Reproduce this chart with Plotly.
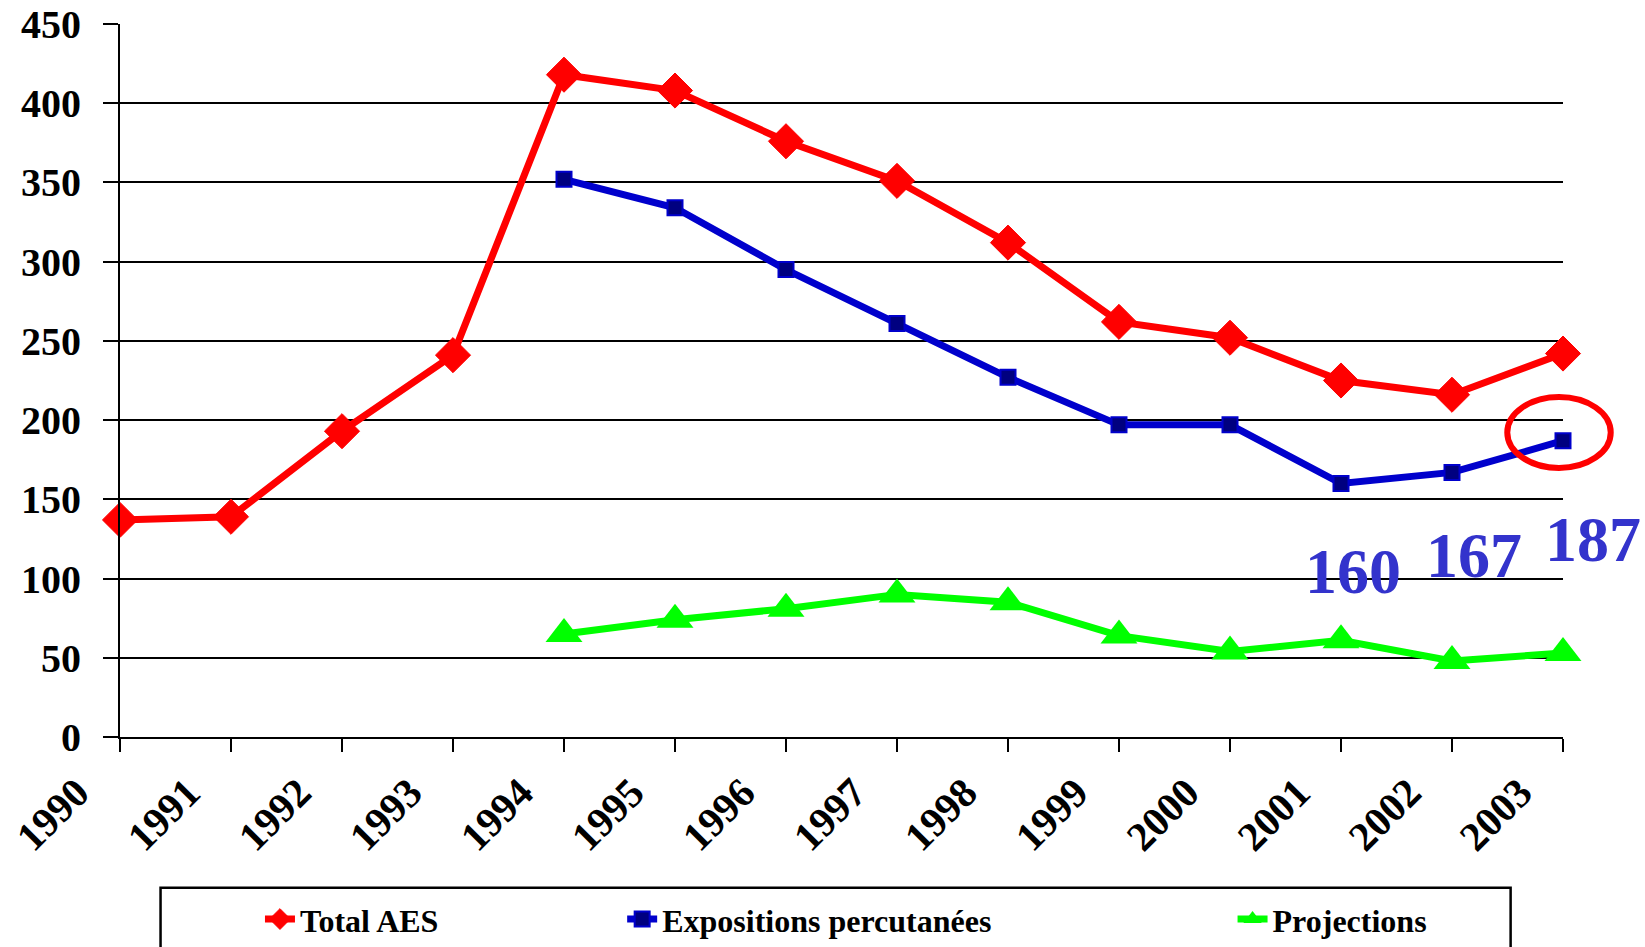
import plotly.graph_objects as go

# Annual counts, 1990-2003
years = list(range(1990, 2004))
total_aes = [137, 139, 193, 241, 418, 408, 376, 351, 312, 262, 252, 225, 216, 242]

sub_years = list(range(1994, 2004))
expositions_percutanees = [352, 334, 295, 261, 227, 197, 197, 160, 167, 187]
projections = [65, 74, 81, 90, 85, 64, 54, 61, 48, 53]

y_ticks = [0, 50, 100, 150, 200, 250, 300, 350, 400, 450]
x_tick_labels = [str(y) for y in years]

# Years whose percutaneous exposure value is printed on the chart
labelled_years = [2001, 2002, 2003]
highlight_year = 2003

SERIF = "Liberation Serif"
RED = "#FF0000"
BLUE = "#0000CC"
NAVY = "#000080"
GREEN = "#00FF00"
LABEL_BLUE = "#3333CC"

X_MIN, X_MAX = years[0], years[-1]
Y_MIN, Y_MAX = 0, 450


def to_paper_x(v):
    return (v - X_MIN) / (X_MAX - X_MIN)


def to_paper_y(v):
    return (v - Y_MIN) / (Y_MAX - Y_MIN)


fig = go.Figure()

fig.add_trace(go.Scatter(
    x=years, y=total_aes, name="Total AES", mode="lines+markers",
    line=dict(color=RED, width=7),
    marker=dict(symbol="diamond", size=27, color=RED, line=dict(color=RED, width=1)),
    cliponaxis=False, legend="legend",
))
fig.add_trace(go.Scatter(
    x=sub_years, y=expositions_percutanees, name="Expositions percutanées",
    mode="lines+markers",
    line=dict(color=BLUE, width=7),
    marker=dict(symbol="square", size=15, color=NAVY, line=dict(color=BLUE, width=2)),
    cliponaxis=False, legend="legend2",
))
fig.add_trace(go.Scatter(
    x=sub_years, y=projections, name="Projections", mode="lines+markers",
    line=dict(color=GREEN, width=7),
    marker=dict(symbol="triangle-up", size=32, color=GREEN, line=dict(color=GREEN, width=0)),
    cliponaxis=False, legend="legend3",
))

# Value labels under the last three percutaneous exposure points
label_offsets = {2001: (12, -88), 2002: (22, -83), 2003: (30, -99)}
for yr in labelled_years:
    val = expositions_percutanees[sub_years.index(yr)]
    dx, dy = label_offsets[yr]
    fig.add_annotation(
        x=yr, y=val, xref="x", yref="y", text=str(val), showarrow=False,
        xshift=dx, yshift=dy,
        font=dict(family=SERIF, size=64, color=LABEL_BLUE, weight="bold"),
    )

# Red ring around the latest value
hv = expositions_percutanees[sub_years.index(highlight_year)]
cx, cy = highlight_year - 0.036, hv + 5.2
rx, ry = 0.466, 22.4
fig.add_shape(
    type="circle", xref="paper", yref="paper",
    x0=to_paper_x(cx - rx), x1=to_paper_x(cx + rx),
    y0=to_paper_y(cy - ry), y1=to_paper_y(cy + ry),
    line=dict(color=RED, width=6),
)

# Legend frame
fig.add_shape(
    type="rect", xref="paper", yref="paper",
    x0=0.0281, x1=0.9637, y0=-0.2115, y1=-0.32,
    line=dict(color="black", width=2.5),
)

legend_font = dict(family=SERIF, size=32, color="black", weight="bold")
legend_common = dict(orientation="h", yanchor="middle", xanchor="left", y=-0.2556,
                     font=legend_font, bgcolor="rgba(0,0,0,0)", borderwidth=0,
                     itemwidth=30)

fig.update_layout(
    width=1645, height=947,
    margin=dict(l=120, r=82, t=23.5, b=209.5, autoexpand=False),
    paper_bgcolor="white", plot_bgcolor="white",
    showlegend=True,
    legend=dict(x=0.097, **legend_common),
    legend2=dict(x=0.348, **legend_common),
    legend3=dict(x=0.771, **legend_common),
    xaxis=dict(
        range=[X_MIN, X_MAX], tickmode="array", tickvals=years, ticktext=x_tick_labels,
        tickangle=-45, showgrid=False, zeroline=False, automargin=False,
        showline=True, linecolor="black", linewidth=2,
        ticks="outside", ticklen=13, tickwidth=2, tickcolor="black",
        ticklabelshift=-43,
        tickfont=dict(family=SERIF, size=41, color="black", weight="bold"),
    ),
    yaxis=dict(
        range=[Y_MIN, Y_MAX], tickmode="array", tickvals=y_ticks,
        showgrid=True, gridcolor="black", gridwidth=2, zeroline=False, automargin=False,
        showline=True, linecolor="black", linewidth=2,
        ticks="outside", ticklen=15, tickwidth=2, tickcolor="black",
        ticklabelstandoff=14,
        tickfont=dict(family=SERIF, size=40, color="black", weight="bold"),
    ),
)

fig.write_html("out.html")
